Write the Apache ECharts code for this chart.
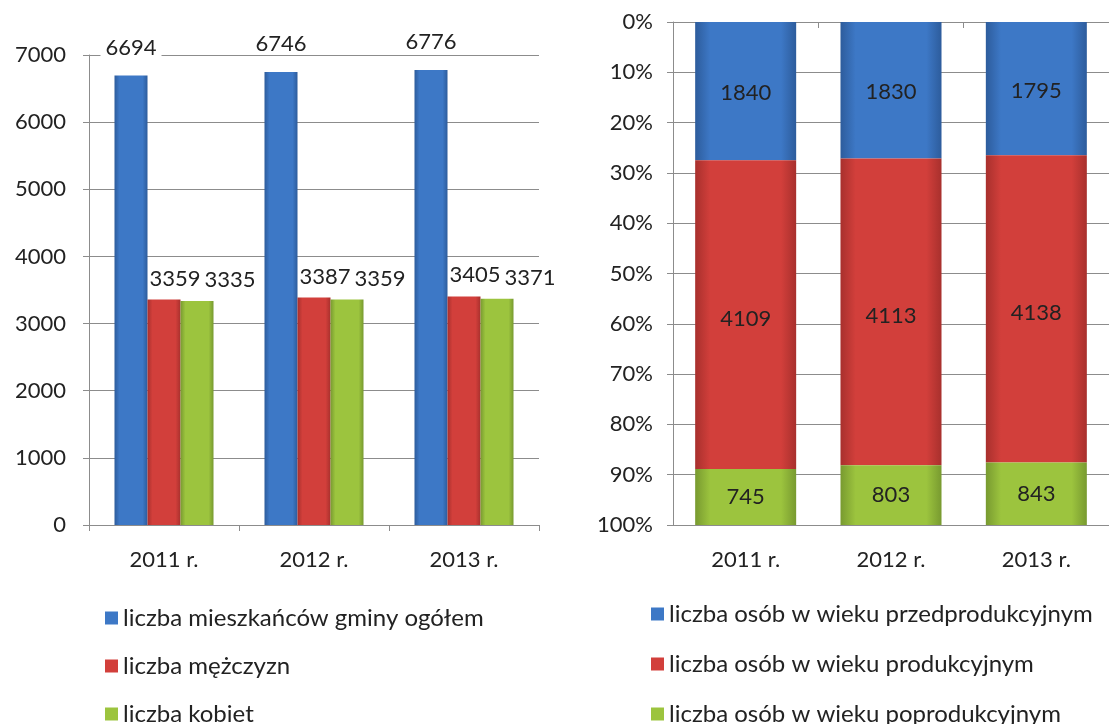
<!DOCTYPE html>
<html>
<head>
<meta charset="utf-8">
<script src="https://cdn.jsdelivr.net/npm/echarts@6/dist/echarts.min.js"></script>
<style>
  html, body { margin: 0; padding: 0; background: #fff; }
  #chart_container { width: 1109px; height: 724px; }
</style>
</head>
<body>
<div id="chart_container"></div>
<script>
var years = ["2011 r.", "2012 r.", "2013 r."];

// left chart
var ogolem = [6694, 6746, 6776];
var mezczyzn = [3359, 3387, 3405];
var kobiet = [3335, 3359, 3371];

// right chart
var przedprod = [1840, 1830, 1795];
var prod = [4109, 4113, 4138];
var poprod = [745, 803, 843];

var leftNames = ["liczba mieszkańców gminy ogółem", "liczba mężczyzn", "liczba kobiet"];
var rightNames = [
  "liczba osób w wieku przedprodukcyjnym",
  "liczba osób w wieku produkcyjnym",
  "liczba osób w wieku poprodukcyjnym",
];

var FONT = "Lato";
var FS = 22;

function grad(edge, mid) {
  return new echarts.graphic.LinearGradient(0, 0, 1, 0, [
    { offset: 0, color: edge },
    { offset: 0.15, color: mid },
    { offset: 0.85, color: mid },
    { offset: 1, color: edge },
  ]);
}
var blue = grad("#2d5c9c", "#3d78c6");
var red = grad("#a8302d", "#d23f3b");
var green = grad("#789a30", "#9cc43e");

// shares for the 100% stacked chart
var totals = years.map(function (y, i) {
  return przedprod[i] + prod[i] + poprod[i];
});
function share(arr) {
  return arr.map(function (v, i) {
    return { value: (v / totals[i]) * 100, raw: v };
  });
}

var dom = document.getElementById("chart_container");
var myChart = echarts.init(dom, null, { renderer: "canvas" });

var axisText = { color: "#222", fontFamily: FONT, fontSize: FS };
var gridLine = { lineStyle: { color: "#8c8c8c", width: 1 } };
var axisLine = { lineStyle: { color: "#8c8c8c", width: 1 } };
var tick = { show: true, length: 6, lineStyle: { color: "#8c8c8c" } };

function legendBox(left, top, gap, names) {
  return {
    orient: "vertical",
    left: left,
    top: top,
    height: 300,
    itemGap: gap,
    itemWidth: 13,
    itemHeight: 13,
    icon: "rect",
    textStyle: { color: "#222", fontFamily: FONT, fontSize: 24 },
    data: [
      { name: names[0], itemStyle: { color: "#3d78c6" } },
      { name: names[1], itemStyle: { color: "#d23f3b" } },
      { name: names[2], itemStyle: { color: "#9cc43e" } },
    ],
  };
}

function barLabel(extra) {
  return Object.assign(
    { show: true, color: "#222", fontFamily: FONT, fontSize: FS },
    extra
  );
}

var rawFmt = function (p) { return p.data.raw; };

var option = {
  animation: false,
  backgroundColor: "#fff",
  textStyle: { fontFamily: FONT },
  grid: [
    { left: 89, top: 55, width: 450, height: 470 },
    { left: 673, top: 22, width: 456, height: 503 },
  ],
  legend: [
    legendBox(100, 601, 24, leftNames),
    legendBox(646, 597, 26, rightNames),
  ],
  xAxis: [
    {
      type: "category",
      gridIndex: 0,
      data: years,
      axisLine: axisLine,
      axisTick: tick,
      axisLabel: Object.assign({ margin: 24 }, axisText),
    },
    {
      type: "category",
      gridIndex: 1,
      data: years,
      axisLine: axisLine,
      axisTick: tick,
      axisLabel: Object.assign({ margin: 24 }, axisText),
    },
  ],
  yAxis: [
    {
      type: "value",
      gridIndex: 0,
      min: 0,
      max: 7000,
      interval: 1000,
      axisLine: { show: true, lineStyle: { color: "#8c8c8c" } },
      axisTick: tick,
      splitLine: gridLine,
      axisLabel: Object.assign(
        { margin: 23, formatter: function (v) { return String(v); } },
        axisText
      ),
    },
    {
      type: "value",
      gridIndex: 1,
      inverse: true,
      min: 0,
      max: 100,
      interval: 10,
      axisLine: { show: true, lineStyle: { color: "#8c8c8c" } },
      axisTick: tick,
      splitLine: gridLine,
      axisLabel: Object.assign({ margin: 20, formatter: "{value}%" }, axisText),
    },
  ],
  series: [
    {
      name: leftNames[0],
      type: "bar",
      xAxisIndex: 0,
      yAxisIndex: 0,
      data: ogolem,
      barWidth: 33,
      barGap: "0%",
      itemStyle: { color: blue },
      label: barLabel({
        position: "top",
        distance: 17,
        backgroundColor: "#fff",
        padding: [0, 5],
      }),
    },
    {
      name: leftNames[1],
      type: "bar",
      xAxisIndex: 0,
      yAxisIndex: 0,
      data: mezczyzn,
      barWidth: 33,
      barGap: "0%",
      itemStyle: { color: red },
      label: barLabel({ position: "top", distance: 10, offset: [11, 0] }),
    },
    {
      name: leftNames[2],
      type: "bar",
      xAxisIndex: 0,
      yAxisIndex: 0,
      data: kobiet,
      barWidth: 33,
      barGap: "0%",
      itemStyle: { color: green },
      label: barLabel({ position: "top", distance: 10, offset: [33, 0] }),
    },
    {
      name: rightNames[0],
      type: "bar",
      xAxisIndex: 1,
      yAxisIndex: 1,
      stack: "wiek",
      data: share(przedprod),
      barWidth: 101,
      itemStyle: { color: blue },
      label: barLabel({ position: "inside", formatter: rawFmt, offset: [0, 2] }),
    },
    {
      name: rightNames[1],
      type: "bar",
      xAxisIndex: 1,
      yAxisIndex: 1,
      stack: "wiek",
      data: share(prod),
      barWidth: 101,
      itemStyle: { color: red },
      label: barLabel({ position: "inside", formatter: rawFmt, offset: [0, 4] }),
    },
    {
      name: rightNames[2],
      type: "bar",
      xAxisIndex: 1,
      yAxisIndex: 1,
      stack: "wiek",
      data: share(poprod),
      barWidth: 101,
      itemStyle: { color: green },
      label: barLabel({ position: "inside", formatter: rawFmt }),
    },
  ],
};

myChart.setOption(option);
window.addEventListener("resize", myChart.resize);
</script>
</body>
</html>
